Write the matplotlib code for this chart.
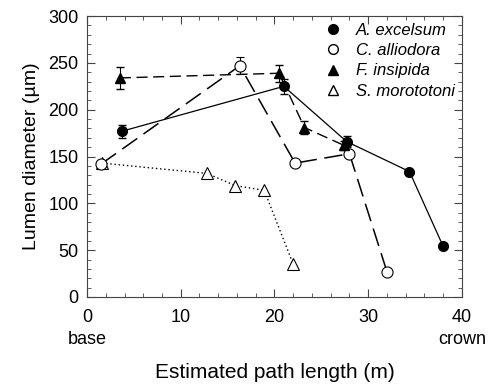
import matplotlib
matplotlib.use('Agg')
import matplotlib.pyplot as plt
from matplotlib.ticker import MultipleLocator
from matplotlib.lines import Line2D

plt.rcParams['font.family'] = ['Liberation Sans', 'DejaVu Sans']

# A. excelsum
ae_x = [3.7, 21.0, 27.7, 34.4, 38.0]
ae_y = [177, 225, 166, 134, 54]
ae_err = [7, 8, 6, 0, 0]
# C. alliodora
ca_x = [1.5, 16.3, 22.2, 28.0, 32.0]
ca_y = [142, 247, 143, 153, 27]
ca_err = [0, 9, 0, 0, 0]
# F. insipida
fi_x = [3.5, 20.5, 23.2, 27.4]
fi_y = [234, 239, 181, 162]
fi_err = [12, 9, 7, 5]
# S. morototoni
sm_x = [1.6, 12.8, 15.8, 18.9, 22.0]
sm_y = [143, 132, 119, 114, 35]

names = ['A. excelsum', 'C. alliodora', 'F. insipida', 'S. morototoni']

fig = plt.figure(figsize=(4.93, 3.84), dpi=100)
ax = fig.add_axes([0.1765, 0.2266, 0.7605, 0.7314])

ax.errorbar(ae_x, ae_y, yerr=ae_err, color='black', lw=0.9, marker='o', ms=7,
            mfc='black', mec='black', capsize=3, elinewidth=0.8)
ax.errorbar(ca_x, ca_y, yerr=ca_err, color='black', lw=1.1, ls=(0, (12, 5)), marker='o', ms=8,
            mfc='white', mec='black', mew=0.8, capsize=3, elinewidth=0.8)
ax.errorbar(fi_x, fi_y, yerr=fi_err, color='black', lw=1.0, ls=(0, (8, 4)), marker='^', ms=7,
            mfc='black', mec='black', capsize=3, elinewidth=0.8)
ax.plot(sm_x, sm_y, color='black', lw=1.0, ls=(0, (1, 2)), marker='^', ms=8,
        mfc='white', mec='black', mew=0.8)

ax.set_xlim(0, 40)
ax.set_ylim(0, 300)
ax.xaxis.set_major_locator(MultipleLocator(10))
ax.xaxis.set_minor_locator(MultipleLocator(2))
ax.yaxis.set_major_locator(MultipleLocator(50))
ax.yaxis.set_minor_locator(MultipleLocator(10))
ax.tick_params(which='both', direction='in', top=True, right=True, labelsize=13, color='#444444')
ax.tick_params(which='major', length=6)
ax.tick_params(which='minor', length=3)
ax.tick_params(axis='y', pad=6)
ax.tick_params(axis='x', pad=9)
for s in ax.spines.values():
    s.set_color('#444444')

ax.set_ylabel('Lumen diameter (µm)', fontsize=14, labelpad=6)
ax.set_xlabel('Estimated path length (m)', fontsize=15, labelpad=26)
ax.text(0, -0.12, 'base', transform=ax.get_xaxis_transform(), ha='center', va='top', fontsize=13)
ax.text(40, -0.12, 'crown', transform=ax.get_xaxis_transform(), ha='center', va='top', fontsize=13)

leg_handles = [Line2D([], [], ls='none', marker='o', mfc='black', mec='black', ms=7),
               Line2D([], [], ls='none', marker='o', mfc='white', mec='black', ms=7),
               Line2D([], [], ls='none', marker='^', mfc='black', mec='black', ms=7),
               Line2D([], [], ls='none', marker='^', mfc='white', mec='black', ms=7)]
ax.legend(leg_handles, names, loc='upper right', frameon=False,
          prop={'style': 'italic', 'size': 12}, handlelength=0.8,
          handletextpad=1.0, labelspacing=0.32, borderaxespad=0.1, borderpad=0.3)

fig.savefig('out.png', dpi=100)
